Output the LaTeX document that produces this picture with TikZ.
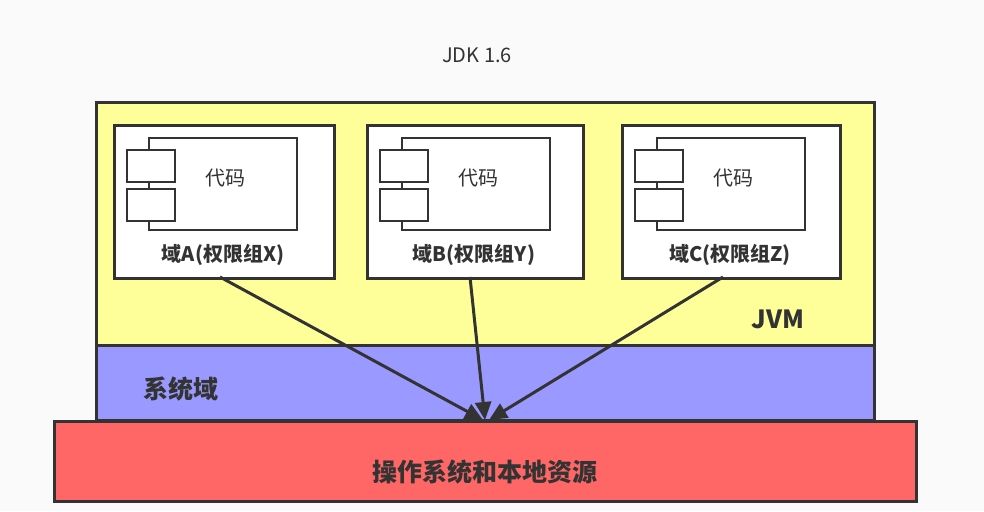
\documentclass[tikz,border=0pt]{standalone}
\usepackage{fontspec}
\setmainfont{Noto Sans CJK SC}
\usetikzlibrary{arrows.meta}
\definecolor{ln}{HTML}{333333}
\definecolor{jvm}{HTML}{FFFF99}
\definecolor{sys}{HTML}{9999FF}
\definecolor{osc}{HTML}{FF6666}
\definecolor{bg}{HTML}{FAFAFA}
\begin{document}
\begin{tikzpicture}[x=1pt,y=-1pt,
  layer/.style={draw=ln,line width=3pt},
  dom/.style={draw=ln,fill=white,line width=2.5pt},
  comp/.style={draw=ln,fill=white,line width=2.5pt},
  lbl/.style={text=ln,font=\bfseries\fontsize{20}{24}\selectfont},
  arr/.style={draw=ln,line width=3pt,-{Triangle[length=18pt,width=16pt]}}]
\fill[bg] (0,0) rectangle (984,511);
\useasboundingbox (0,0) rectangle (984,511);
\node[text=ln,font=\fontsize{20}{24}\selectfont] (title) at (477,55) {JDK 1.6};
\path[layer,fill=jvm] (96,102) rectangle (874,345);
\path[layer,fill=sys] (96,345) rectangle (874,420);
\node[draw=none,minimum width=778pt,minimum height=75pt] (sysbox) at (485,382) {};
\path[layer,fill=osc] (54,421) rectangle (916,501);
\node[minimum width=862pt,minimum height=80pt] (os) at (485,461) {};
\coordinate (target) at (485,420);
\node[lbl,font=\bfseries\fontsize{25}{28}\selectfont] (jvmlbl) at (778,319) {JVM};
\node[lbl,font=\bfseries\fontsize{25}{28}\selectfont] (syslbl) at (181,389) {系统域};
\node[lbl,font=\bfseries\fontsize{25}{28}\selectfont] (oslbl) at (485,472) {操作系统和本地资源};
% domains
\foreach \n/\x/\w/\t in {A/113/220/域A(权限组X), B/366/216/域B(权限组Y), C/621/218/域C(权限组Z)}{
  \node[dom,minimum width=\w pt,minimum height=153pt,anchor=north west,inner sep=0pt] (d\n) at (\x,124) {};
  \draw[comp] (\x+36,138) rectangle (\x+184,230);
  \draw[comp] (\x+14,150) rectangle (\x+62,182);
  \draw[comp] (\x+14,189) rectangle (\x+62,221);
  \node[text=ln,font=\fontsize{20}{24}\selectfont] (code\n) at (\x+112,178) {代码};
  \node[lbl] (l\n) at (\x+\w/2,255) {\t};
}
\draw[arr] (220,277) -- (483,420);
\draw[arr] (470,277) -- (485,420);
\draw[arr] (723,277) -- (489,420);
\end{tikzpicture}
\end{document}
